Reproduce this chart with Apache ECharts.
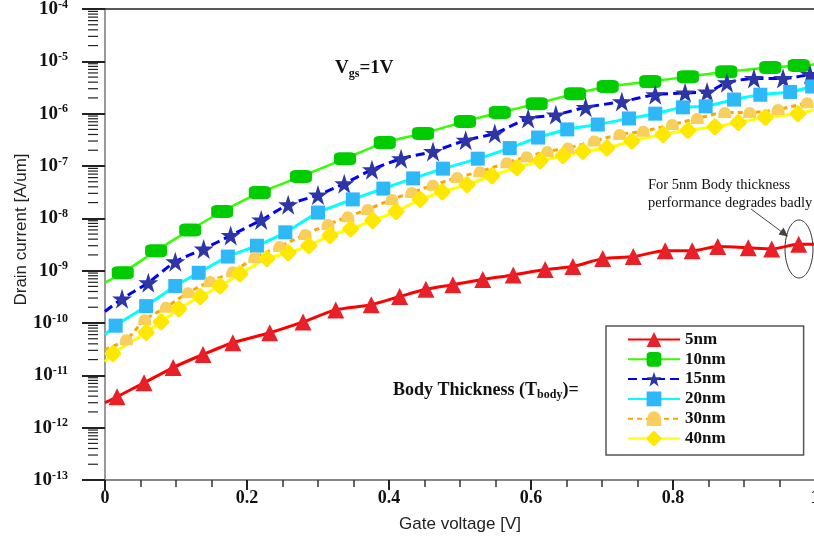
<!DOCTYPE html>
<html>
<head>
<meta charset="utf-8">
<script src="https://cdn.jsdelivr.net/npm/echarts@6/dist/echarts.min.js"></script>
<style>html,body{margin:0;padding:0;background:#fff;}#c{width:814px;height:537px;}</style>
</head>
<body>
<div id="c"></div>
<script>
// ---- data (gate voltage [V], drain current [A/um]) ----
const v5nm  = [0, 0.017, 0.055, 0.096, 0.138, 0.180, 0.232, 0.279, 0.325, 0.375, 0.415, 0.452, 0.490, 0.532, 0.575, 0.620, 0.659, 0.701, 0.744, 0.789, 0.827, 0.863, 0.906, 0.939, 0.977, 1.0];
const i5nm  = [3.0e-12, 3.9e-12, 7.2e-12, 1.41e-11, 2.5e-11, 4.2e-11, 6.5e-11, 1.05e-10, 1.78e-10, 2.24e-10, 3.2e-10, 4.4e-10, 5.4e-10, 6.8e-10, 8.3e-10, 1.05e-9, 1.2e-9, 1.7e-9, 1.86e-9, 2.4e-9, 2.4e-9, 2.9e-9, 2.75e-9, 2.6e-9, 3.2e-9, 3.2e-9];

const v10nm = [0, 0.025, 0.072, 0.120, 0.165, 0.218, 0.276, 0.338, 0.394, 0.448, 0.507, 0.556, 0.608, 0.662, 0.708, 0.768, 0.821, 0.875, 0.937, 0.977, 1.0];
const i10nm = [5.9e-10, 9.1e-10, 2.4e-9, 6.0e-9, 1.35e-8, 3.1e-8, 6.3e-8, 1.38e-7, 2.8e-7, 4.2e-7, 7.1e-7, 1.05e-6, 1.55e-6, 2.4e-6, 3.3e-6, 4.1e-6, 5.1e-6, 6.3e-6, 7.6e-6, 8.3e-6, 8.7e-6];

const v15nm = [0, 0.024, 0.061, 0.099, 0.139, 0.177, 0.220, 0.258, 0.300, 0.337, 0.376, 0.417, 0.462, 0.508, 0.549, 0.596, 0.635, 0.677, 0.728, 0.775, 0.817, 0.848, 0.876, 0.914, 0.955, 0.993];
const i15nm = [1.66e-10, 2.9e-10, 5.9e-10, 1.48e-9, 2.6e-9, 4.7e-9, 9.3e-9, 1.82e-8, 2.8e-8, 4.6e-8, 8.5e-8, 1.38e-7, 1.9e-7, 3.1e-7, 4.2e-7, 8.1e-7, 9.5e-7, 1.32e-6, 1.7e-6, 2.3e-6, 2.5e-6, 2.6e-6, 3.9e-6, 4.7e-6, 4.7e-6, 5.6e-6];

const v20nm = [0, 0.015, 0.058, 0.099, 0.132, 0.173, 0.214, 0.254, 0.300, 0.349, 0.392, 0.434, 0.476, 0.525, 0.570, 0.610, 0.651, 0.694, 0.738, 0.775, 0.814, 0.846, 0.886, 0.923, 0.965, 0.996];
const i20nm = [6.0e-11, 8.9e-11, 2.1e-10, 5.1e-10, 9.1e-10, 1.86e-9, 3.0e-9, 5.4e-9, 1.29e-8, 2.3e-8, 3.7e-8, 5.8e-8, 8.9e-8, 1.38e-7, 2.2e-7, 3.5e-7, 5.0e-7, 6.2e-7, 8.1e-7, 1.0e-6, 1.32e-6, 1.38e-6, 1.86e-6, 2.3e-6, 2.6e-6, 3.3e-6];

const v30nm = [0, 0.030, 0.056, 0.086, 0.117, 0.148, 0.180, 0.211, 0.246, 0.282, 0.314, 0.342, 0.370, 0.404, 0.432, 0.462, 0.496, 0.528, 0.566, 0.594, 0.623, 0.652, 0.689, 0.725, 0.758, 0.799, 0.834, 0.873, 0.908, 0.948, 0.989];
const i30nm = [3.1e-11, 4.8e-11, 1.15e-10, 2.0e-10, 3.8e-10, 6.2e-10, 9.5e-10, 1.78e-9, 2.9e-9, 4.9e-9, 7.6e-9, 1.07e-8, 1.48e-8, 2.3e-8, 3.1e-8, 4.3e-8, 6.0e-8, 7.8e-8, 1.15e-7, 1.51e-7, 1.9e-7, 2.2e-7, 3.0e-7, 4.0e-7, 4.6e-7, 6.2e-7, 8.1e-7, 1.05e-6, 1.05e-6, 1.2e-6, 1.62e-6];

const v40nm = [0, 0.011, 0.058, 0.079, 0.104, 0.134, 0.162, 0.190, 0.228, 0.258, 0.287, 0.317, 0.346, 0.377, 0.410, 0.444, 0.475, 0.510, 0.545, 0.580, 0.613, 0.645, 0.673, 0.707, 0.742, 0.786, 0.821, 0.859, 0.892, 0.930, 0.976, 1.0];
const i40nm = [1.82e-11, 2.6e-11, 6.6e-11, 1.05e-10, 1.86e-10, 3.2e-10, 5.1e-10, 8.7e-10, 1.7e-9, 2.2e-9, 3.0e-9, 4.7e-9, 6.3e-9, 9.1e-9, 1.35e-8, 2.3e-8, 3.2e-8, 4.4e-8, 6.5e-8, 9.3e-8, 1.26e-7, 1.58e-7, 1.9e-7, 2.2e-7, 3.0e-7, 4.0e-7, 4.8e-7, 5.6e-7, 6.8e-7, 8.5e-7, 1.0e-6, 1.2e-6];

const seriesNames = ['5nm', '10nm', '15nm', '20nm', '30nm', '40nm'];
const xTicks = [0, 0.2, 0.4, 0.6, 0.8, 1];
const yDecades = [-13, -12, -11, -10, -9, -8, -7, -6, -5, -4];

// ---- build ----
const zip = (xs, ys) => xs.map((x, i) => [x, ys[i]]);
const serif = 'Liberation Serif, Times New Roman, serif';
const sans = 'Liberation Sans, Arial, sans-serif';

// symbol only where a marker was drawn (line-only ends at V=0 and V=1)
const symSize = (sz) => (val) => (val[0] === 0 || val[0] === 1) ? 0 : sz;

const domePath = 'path://M0,11 C0,4 4,0 10,0 C16,0 20,4 20,11 L20,14 L0,14 Z';
const rDiamond = 'path://M8,1 Q10,-1 12,1 L19,8 Q21,10 19,12 L12,19 Q10,21 8,19 L1,12 Q-1,10 1,8 Z';
const starPath = 'path://M10,0 L12.35,7.2 L19.9,7.2 L13.8,11.7 L16.1,19 L10,14.5 L3.9,19 L6.2,11.7 L0.1,7.2 L7.65,7.2 Z';

function lineSeries(name, data, lineColor, lineWidth, lineType, symbol, size, fill) {
  return {
    type: 'line', name, data, smooth: 0.25,
    symbol, symbolSize: symSize(size), showAllSymbol: true,
    lineStyle: { color: lineColor, width: lineWidth, type: lineType },
    itemStyle: { color: fill, borderWidth: 0 },
    emphasis: { disabled: true }
  };
}

// minor ticks of the log axis (2..9 x 10^n)
const minorTickVals = [];
yDecades.slice(0, -1).forEach(n => { for (let k = 2; k <= 9; k++) minorTickVals.push([0, k * Math.pow(10, n)]); });

const chart = echarts.init(document.getElementById('c'), null, { renderer: 'canvas' });
chart.setOption({
  animation: false,
  backgroundColor: '#fff',
  grid: { left: 105, right: -1, top: 9, bottom: 57, containLabel: false, outerBoundsMode: 'none' },
  xAxis: [{
    type: 'value', min: 0, max: 1, interval: 0.2,
    name: 'Gate voltage [V]', nameLocation: 'middle', nameGap: 36,
    nameTextStyle: { fontFamily: sans, fontSize: 17, color: '#222' },
    axisLine: { show: true, onZero: false, lineStyle: { color: '#888', width: 2 } },
    axisTick: { show: true, length: 10, lineStyle: { color: '#222', width: 2 } },
    minorTick: { show: true, splitNumber: 4, length: 7, lineStyle: { color: '#333', width: 1.5 } },
    splitLine: { show: false },
    axisLabel: { margin: 9, fontFamily: serif, fontWeight: 'bold', fontSize: 18, color: '#111',
      formatter: v => xTicks.indexOf(Math.round(v * 10) / 10) >= 0 ? String(Math.round(v * 10) / 10) : '' }
  }, {
    type: 'value', min: 0, max: 1, position: 'top',
    axisLine: { show: true, lineStyle: { color: '#222', width: 1.5 } },
    axisTick: { show: false }, axisLabel: { show: false }, splitLine: { show: false }
  }],
  yAxis: {
    type: 'log', logBase: 10, min: 1e-13, max: 1e-4, interval: 1, offset: 7,
    name: 'Drain current [A/um]', nameLocation: 'middle', nameGap: 68, nameRotate: 90, nameMoveOverlap: false,
    nameTextStyle: { fontFamily: sans, fontSize: 17, color: '#222', padding: [0, 0, 0, 30] },
    axisLine: { show: true, lineStyle: { color: '#999', width: 2 } },
    axisTick: { show: true, length: 23, lineStyle: { color: '#222', width: 2 } },
    splitLine: { show: false },
    axisLabel: {
      margin: 30,
      formatter: v => '{b|10}{s|' + Math.round(Math.log10(v)) + '}',
      rich: {
        b: { fontFamily: serif, fontWeight: 'bold', fontSize: 19, color: '#111', lineHeight: 21 },
        s: { fontFamily: serif, fontWeight: 'bold', fontSize: 12, color: '#111', lineHeight: 13, verticalAlign: 'top' }
      }
    }
  },
  legend: {
    data: seriesNames, orient: 'vertical', left: 606, top: 326,
    itemWidth: 52, itemHeight: 18.5, itemGap: 2.8,
    padding: [5, 78, 8, 21],
    borderColor: '#555', borderWidth: 1.5, backgroundColor: '#fff',
    textStyle: { fontFamily: serif, fontWeight: 'bold', fontSize: 17, color: '#111' },
    selectedMode: false
  },
  series: [
    lineSeries('5nm', zip(v5nm, i5nm), '#ff0000', 3, 'solid', 'triangle', 17, '#e8202a'),
    lineSeries('10nm', zip(v10nm, i10nm), '#33ff00', 2.5, 'solid', 'roundRect', [22, 13], '#00cc00'),
    lineSeries('15nm', zip(v15nm, i15nm), '#0000ff', 3, [9, 5], starPath, 20, '#2e36a6'),
    lineSeries('20nm', zip(v20nm, i20nm), '#00ffff', 3, 'solid', 'rect', 14, '#2eb8f8'),
    lineSeries('30nm', zip(v30nm, i30nm), '#ffa500', 3, [5, 4], domePath, [13, 11], '#f8ce5c'),
    lineSeries('40nm', zip(v40nm, i40nm), '#ffff00', 3, 'solid', rDiamond, 17, '#ffe800'),
    {
      type: 'custom', name: 'minorTicks', data: minorTickVals, silent: true, clip: false, z: 5,
      renderItem: (params, api) => {
        const p = api.coord([0, api.value(1)]);
        return { type: 'line', shape: { x1: p[0] - 7 - 10, y1: p[1], x2: p[0] - 7, y2: p[1] },
          style: { stroke: '#222', lineWidth: 1.2 } };
      }
    }
  ],
  graphic: [
    { type: 'line', shape: { x1: 98, y1: 480, x2: 106, y2: 480 }, style: { stroke: '#888', lineWidth: 2 } },
    { type: 'text', left: 335, top: 59, style: {
        text: '{a|V}{b|gs}{a|=1V}',
        rich: { a: { fontFamily: serif, fontWeight: 'bold', fontSize: 19, fill: '#111', lineHeight: 22 },
                b: { fontFamily: serif, fontWeight: 'bold', fontSize: 12, fill: '#111', lineHeight: 15, verticalAlign: 'bottom' } } } },
    { type: 'text', left: 393, top: 381, style: {
        text: '{a|Body Thickness (T}{b|body}{a|)=}',
        rich: { a: { fontFamily: serif, fontWeight: 'bold', fontSize: 18, fill: '#111', lineHeight: 21 },
                b: { fontFamily: serif, fontWeight: 'bold', fontSize: 12, fill: '#111', lineHeight: 14, verticalAlign: 'bottom' } } } },
    { type: 'text', left: 648, top: 176, style: {
        text: 'For 5nm Body thickness\nperformance degrades badly',
        font: '14.5px ' + serif, fill: '#111', lineHeight: 18 } },
    { type: 'line', shape: { x1: 751, y1: 209, x2: 786, y2: 235 }, style: { stroke: '#444', lineWidth: 1 } },
    { type: 'polygon', shape: { points: [[788, 236.5], [778.5, 234.5], [783.5, 227.5]] }, style: { fill: '#444' } },
    { type: 'ellipse', shape: { cx: 799, cy: 249, rx: 14, ry: 29 }, style: { stroke: '#333', fill: 'none', lineWidth: 1 } }
  ]
});
</script>
</body>
</html>
